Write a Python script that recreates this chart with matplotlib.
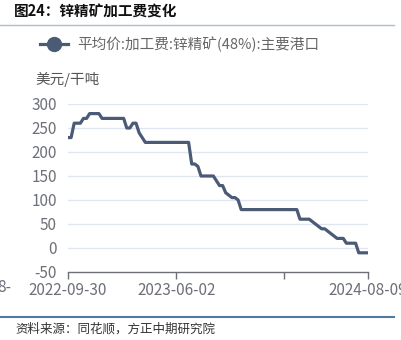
import matplotlib
matplotlib.use("Agg")
import matplotlib.pyplot as plt
import matplotlib.dates as mdates
import numpy as np
import pandas as pd

plt.rcParams['font.family'] = ['Noto Sans CJK SC', 'DejaVu Sans']

# ---- data (weekly, Fridays) ----
start_date = "2022-09-30"
values = [
    230, 230, 260, 260, 260, 270, 270, 280, 280, 280,
    280, 270, 270, 270, 270, 270, 270, 270, 270, 250,
    250, 260, 260, 240, 230, 220, 220, 220, 220, 220,
    220, 220, 220, 220, 220, 220, 220, 220, 220, 220,
    175, 175, 170, 150, 150, 150, 150, 150, 140, 130,
    130, 115, 110, 105, 105, 100, 80, 80, 80, 80,
    80, 80, 80, 80, 80, 80, 80, 80, 80, 80,
    80, 80, 80, 80, 80, 60, 60, 60, 60, 55,
    50, 45, 40, 40, 35, 30, 25, 20, 20, 20,
    10, 10, 10, 10, -10, -10, -10, -10,
]
dates = pd.date_range(start_date, periods=len(values), freq="7D")
tick_dates = ["2022-09-30", "2023-06-02", "2024-02-02", "2024-08-09"]
tick_labels = ["2022-09-30", "2023-06-02", "", "2024-08-09"]
yticks = [-50, 0, 50, 100, 150, 200, 250, 300]

series_name = "平均价:加工费:锌精矿(48%):主要港口"
title = "图24：锌精矿加工费变化"
unit = "美元/干吨"
source = "资料来源：同花顺，方正中期研究院"

W, H = 402, 340
fig = plt.figure(figsize=(W / 100, H / 100), dpi=100)
fig.patch.set_facecolor("white")

def px(x, y):
    return x / W, 1 - y / H

line_color = "#4b5b76"
tick_color = "#6e7079"
grid_color = "#e0e6f1"

ax = fig.add_axes([68 / W, 1 - 272 / H, 300 / W, (272 - 104) / H])
ax.plot(dates, values, color=line_color, lw=2.3, solid_joinstyle="round",
        solid_capstyle="butt", zorder=3)
ax.set_ylim(-50, 300)
ax.set_xlim(dates[0], dates[-1])
ax.set_yticks(yticks)
ax.set_yticklabels([str(v) for v in yticks])
for v in yticks[1:]:
    ax.axhline(v, color=grid_color, lw=1, zorder=1)
for s in ["top", "right", "left"]:
    ax.spines[s].set_visible(False)
ax.spines["bottom"].set_color(tick_color)
ax.spines["bottom"].set_linewidth(1)
ax.tick_params(axis="y", length=0, pad=8, labelsize=11, labelcolor=tick_color)
ax.tick_params(axis="x", length=5, width=1, color=tick_color, direction="out",
               labelsize=11, labelcolor=tick_color, pad=2)
ax.set_xticks(pd.to_datetime(tick_dates))
ax.set_xticklabels(tick_labels)

# partial clipped label at far left
fig.text(11 / W, 1 - 287 / H, "8-", ha="right", va="center", fontsize=11, color=tick_color)

# unit label
fig.text(*px(35, 79), unit, ha="left", va="center", fontsize=10.5, color="#555555")

# legend
lx0, lx1, ly = 40, 68, 44
fig.add_artist(plt.Line2D([lx0 / W, lx1 / W], [1 - ly / H, 1 - ly / H],
                          color=line_color, lw=2.3, transform=fig.transFigure))
fig.add_artist(plt.Line2D([54 / W], [1 - ly / H], marker="o", markersize=10,
                          color=line_color, transform=fig.transFigure))
fig.text(*px(77, 44), series_name, ha="left", va="center", fontsize=10.5, color="#666666")

# title
fig.text(*px(14, 12), title, ha="left", va="center", fontsize=10.5, fontweight="bold", color="#111111")
fig.add_artist(plt.Line2D([0, 394 / W], [1 - 25 / H, 1 - 25 / H], color="#aebdd0", lw=1,
                          transform=fig.transFigure))

# bottom rule and source
fig.add_artist(plt.Line2D([0, 394 / W], [1 - 317 / H, 1 - 317 / H], color="#4f7aa0", lw=1.5,
                          transform=fig.transFigure))
fig.text(*px(15, 329), source, ha="left", va="center", fontsize=9, color="#333333", style="italic")

fig.savefig("out.png", dpi=100)
